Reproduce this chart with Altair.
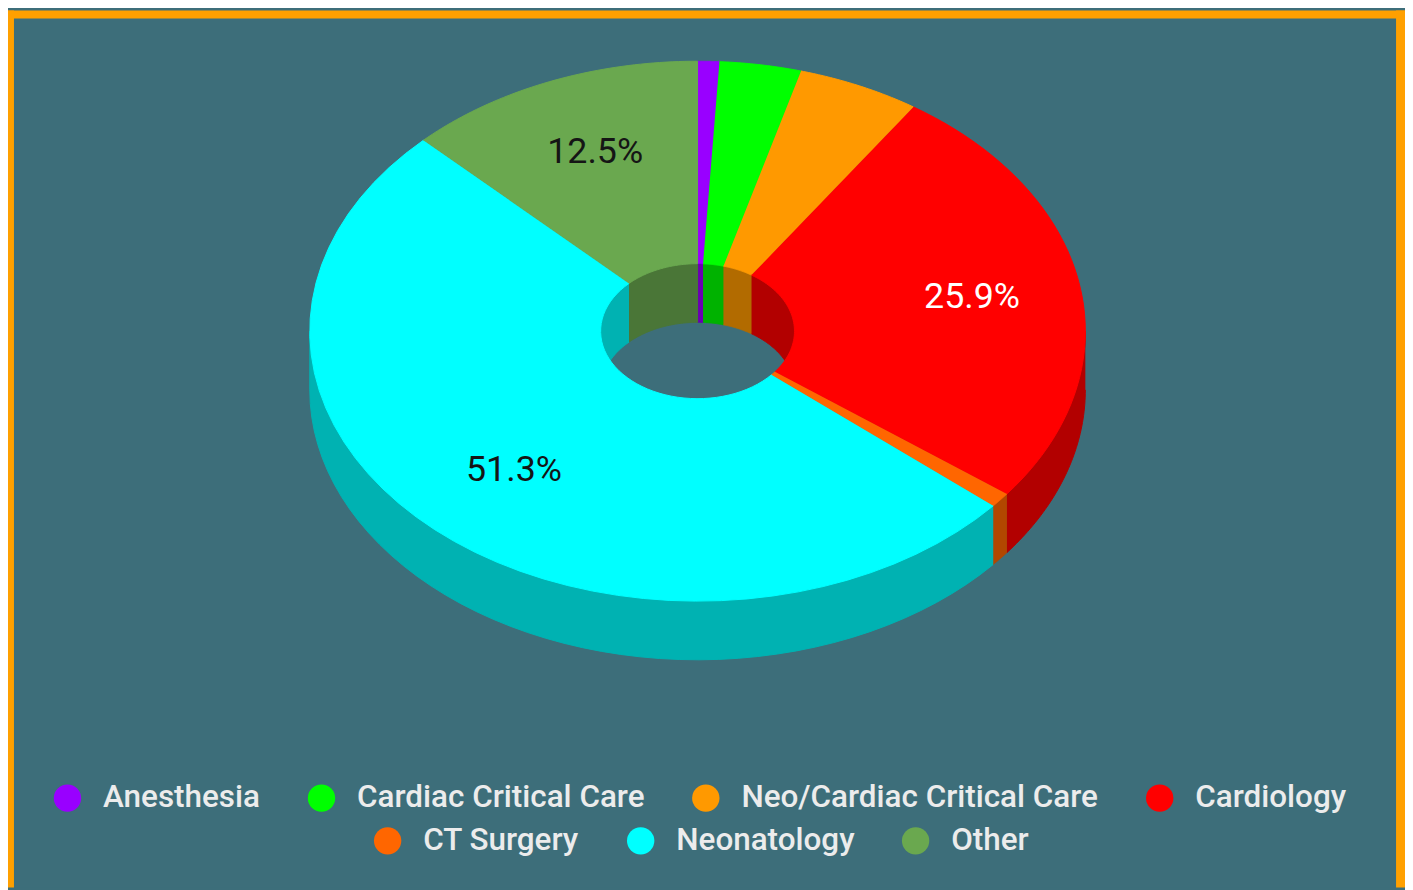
import altair as alt
import pandas as pd

# ---------------- data ----------------
categories = ["Anesthesia", "Cardiac Critical Care", "Neo/Cardiac Critical Care",
              "Cardiology", "CT Surgery", "Neonatology", "Other"]
values = [0.9, 3.4, 5.1, 25.9, 0.9, 51.3, 12.5]
colors = ["#9900ff", "#00ff00", "#ff9900", "#ff0000", "#ff6600", "#00ffff", "#6aa84f"]
side_colors = ["#6b00b2", "#00b200", "#b26b00", "#b20000", "#b24700", "#00b2b2", "#4a7637"]
legend_row1 = categories[:4]
legend_row2 = categories[4:]

# ---------------- geometry / style ----------------
W, H = 1405, 882
CX, CY = 693.5, 322.5        # centre of top face
RX, RY = 390.0, 271.5        # outer radii of top ellipse
INNER = 0.25                 # inner radius ratio
DEPTH = 59                   # 3D depth
N = 48                       # points per arc
LABEL_R = 0.71
BG = "#3d6e7a"
BORDER = "#ffa000"

df = pd.DataFrame({"cat": categories, "value": values, "idx": list(range(len(categories)))})

xs = alt.Scale(domain=[0, W], nice=False, zero=False)
ys = alt.Scale(domain=[0, H], nice=False, zero=False, reverse=True)
X = alt.X("px:Q", scale=xs, axis=None)
Y = alt.Y("py:Q", scale=ys, axis=None)

base = (
    alt.Chart(df)
    .transform_joinaggregate(total="sum(value)")
    .transform_window(cum="sum(value)", sort=[alt.SortField("idx")], frame=[None, 0])
    .transform_calculate(
        a1="2*PI*datum.cum/datum.total",
        a0="2*PI*(datum.cum-datum.value)/datum.total",
    )
)

ang_expr = (f"datum.k <= {N} ? datum.b0 + (datum.b1-datum.b0)*datum.k/{N} "
            f": datum.b1 - (datum.b1-datum.b0)*(datum.k-{N}-1)/{N}")

# ---- outer front side wall ----
outer_side = (
    base.transform_calculate(b0="max(datum.a0, PI/2)", b1="min(datum.a1, 3*PI/2)")
    .transform_filter("datum.b1 > datum.b0")
    .transform_calculate(ks=f"sequence(0, {2*N+2})")
    .transform_flatten(["ks"], as_=["k"])
    .transform_calculate(ang=ang_expr)
    .transform_calculate(
        px=f"{CX} + {RX}*sin(datum.ang)",
        py=f"{CY} - {RY}*cos(datum.ang) + (datum.k <= {N} ? 0 : {DEPTH})",
    )
    .mark_line(strokeWidth=1)
    .encode(
        x=X, y=Y, order=alt.Order("k:Q"),
        fill=alt.Fill("cat:N", scale=alt.Scale(domain=categories, range=side_colors), legend=None),
        stroke=alt.Stroke("cat:N", scale=alt.Scale(domain=categories, range=side_colors), legend=None),
    )
)

# ---- inner back wall (seen through the hole) ----
inner_wall = (
    base.transform_calculate(parts="[0, 1]")
    .transform_flatten(["parts"], as_=["part"])
    .transform_calculate(
        b0="max(datum.a0, datum.part == 0 ? 0 : 3*PI/2)",
        b1="min(datum.a1, datum.part == 0 ? PI/2 : 2*PI)",
        key="datum.cat + '-' + datum.part",
    )
    .transform_filter("datum.b1 > datum.b0")
    .transform_calculate(ks=f"sequence(0, {2*N+2})")
    .transform_flatten(["ks"], as_=["k"])
    .transform_calculate(ang=ang_expr)
    .transform_calculate(
        px=f"{CX} + {RX*INNER}*sin(datum.ang)",
        py=f"{CY} - {RY*INNER}*cos(datum.ang) + (datum.k <= {N} ? 0 : {DEPTH})",
    )
    .mark_line(strokeWidth=1)
    .encode(
        x=X, y=Y, order=alt.Order("k:Q"), detail="key:N",
        fill=alt.Fill("cat:N", scale=alt.Scale(domain=categories, range=side_colors), legend=None),
        stroke=alt.Stroke("cat:N", scale=alt.Scale(domain=categories, range=side_colors), legend=None),
    )
)

# ---- top face ----
top = (
    base.transform_calculate(b0="datum.a0", b1="datum.a1", ks=f"sequence(0, {2*N+2})")
    .transform_flatten(["ks"], as_=["k"])
    .transform_calculate(ang=ang_expr, r=f"datum.k <= {N} ? 1 : {INNER}")
    .transform_calculate(
        px=f"{CX} + {RX}*datum.r*sin(datum.ang)",
        py=f"{CY} - {RY}*datum.r*cos(datum.ang)",
    )
)


def legend(lx, ly):
    return alt.Legend(
        orient="none", legendX=lx, legendY=ly, direction="horizontal", title=None,
        symbolType="circle", symbolSize=760, symbolStrokeWidth=0,
        labelFontSize=31.6, labelFont="Roboto", labelFontWeight=500, labelColor="#ececec",
        labelOffset=20, columnPadding=45.5, labelLimit=800, padding=0,
    )


def top_layer(row, row_colors, lx, ly):
    return (
        top.transform_filter(alt.FieldOneOfPredicate(field="cat", oneOf=row))
        .mark_line(strokeWidth=1)
        .encode(
            x=X, y=Y, order=alt.Order("k:Q"),
            fill=alt.Fill("cat:N", scale=alt.Scale(domain=row, range=row_colors),
                          legend=legend(lx, ly)),
            stroke=alt.Stroke("cat:N", scale=alt.Scale(domain=row, range=row_colors), legend=None),
        )
    )


top1 = top_layer(legend_row1, colors[:4], 44, 776)
top2 = top_layer(legend_row2, colors[4:], 366, 819)

# ---- data labels ----
labels = (
    base.transform_filter("datum.value/datum.total >= 0.1")
    .transform_calculate(mid="(datum.a0+datum.a1)/2")
    .transform_calculate(
        px=f"{CX} + {RX*LABEL_R}*sin(datum.mid)",
        py=f"{CY} - {RY*LABEL_R}*cos(datum.mid)",
        txt="format(100*datum.value/datum.total, '.1f') + '%'",
    )
    .mark_text(font="Roboto", fontSize=36, baseline="middle", align="center", dx=3, dy=-2)
    .encode(
        x=X, y=Y, text="txt:N",
        color=alt.condition(alt.datum.cat == "Cardiology", alt.value("#ffffff"), alt.value("#151515")),
    )
)

# ---- frame ----
one = alt.Data(values=[{"a": 1}])
frame_top = alt.Chart(one).mark_rule(color=BORDER, strokeWidth=8).encode(
    x=alt.value(0), x2=alt.value(W), y=alt.value(4))
frame_left = alt.Chart(one).mark_rule(color=BORDER, strokeWidth=6).encode(
    x=alt.value(3), y=alt.value(0), y2=alt.value(H))
frame_right = alt.Chart(one).mark_rule(color=BORDER, strokeWidth=9).encode(
    x=alt.value(W - 4.5), y=alt.value(0), y2=alt.value(H))

chart = (
    alt.layer(outer_side, inner_wall, top1, top2, labels, frame_top, frame_left, frame_right)
    .resolve_scale(fill="independent", stroke="independent", color="independent")
    .properties(width=W, height=H, background=BG, padding=0, autosize="none")
    .configure_view(stroke=None, fill=BG)
)

chart.save("out.html", embed_options={"renderer": "svg", "actions": False})
